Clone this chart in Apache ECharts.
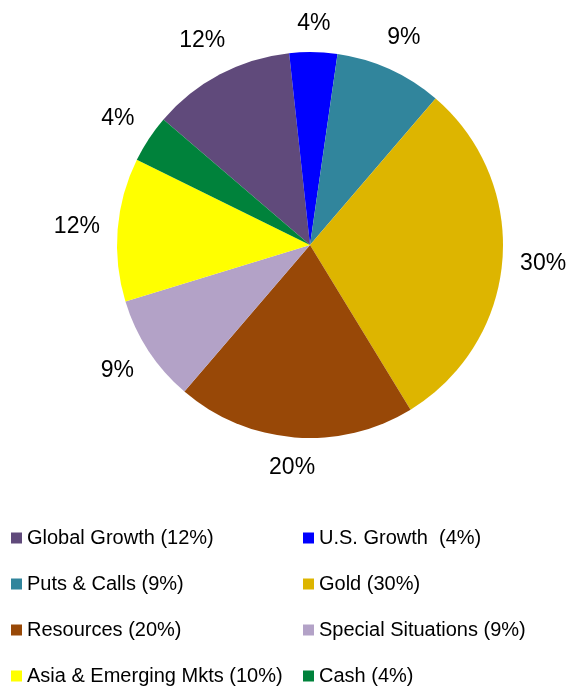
<!DOCTYPE html>
<html>
<head>
<meta charset="utf-8">
<script src="https://cdn.jsdelivr.net/npm/echarts@6/dist/echarts.min.js"></script>
<style>
  html, body { margin: 0; padding: 0; background: #fff; }
  #chart { width: 582px; height: 689px; }
</style>
</head>
<body>
<div id="chart"></div>
<script>
// data
const categories = ['Global Growth', 'U.S. Growth', 'Puts & Calls', 'Gold', 'Resources', 'Special Situations', 'Asia & Emerging Mkts', 'Cash'];
const values = [12, 4, 9, 30, 20, 9, 12, 4];
const legendLabels = ['Global Growth (12%)', 'U.S. Growth  (4%)', 'Puts & Calls (9%)', 'Gold (30%)', 'Resources (20%)', 'Special Situations (9%)', 'Asia & Emerging Mkts (10%)', 'Cash (4%)'];
const colors = ['#604A7B', '#0000FF', '#31859C', '#DDB500', '#984807', '#B3A2C7', '#FFFF00', '#00823B'];

const CX = 310, CY = 245, R = 193;
const FONT = '"Liberation Sans", Arial, sans-serif';

const pieData = categories.map((name, i) => ({ name, value: values[i] }));
const labelFor = {};
categories.forEach((c, i) => { labelFor[c] = legendLabels[i]; });

const chart = echarts.init(document.getElementById('chart'), null, { renderer: 'canvas' });

const legendBase = {
  orient: 'vertical',
  top: 528,
  height: 160,
  padding: 0,
  itemWidth: 11,
  itemHeight: 11,
  itemGap: 26,
  icon: 'rect',
  selectedMode: false,
  formatter: name => labelFor[name],
  textStyle: { fontFamily: FONT, fontSize: 20, lineHeight: 20, color: '#000' }
};

chart.setOption({
  animation: false,
  color: colors,
  legend: [
    Object.assign({}, legendBase, { left: 11, data: categories.filter((c, i) => i % 2 === 0) }),
    Object.assign({}, legendBase, { left: 303, data: categories.filter((c, i) => i % 2 === 1) })
  ],
  series: [
    {
      type: 'pie',
      center: [CX, CY],
      radius: R,
      startAngle: 139.4,
      clockwise: true,
      silent: true,
      label: { show: false },
      labelLine: { show: false },
      emphasis: { disabled: true },
      data: pieData
    },
    {
      // transparent ring that only carries the percentage labels
      type: 'pie',
      center: [CX, CY],
      radius: [R, R + 28],
      startAngle: 139.4,
      clockwise: true,
      silent: true,
      itemStyle: { color: 'transparent' },
      emphasis: { disabled: true },
      label: {
        show: true,
        position: 'inside',
        formatter: '{c}%',
        color: '#000',
        fontFamily: FONT,
        fontSize: 23
      },
      labelLine: { show: false },
      labelLayout: function (p) {
        // push each label outward so its near edge sits on the ring
        const r = p.labelRect;
        const mx = r.x + r.width / 2 - CX;
        const my = r.y + r.height / 2 - CY;
        const len = Math.sqrt(mx * mx + my * my) || 1;
        const ux = mx / len, uy = my / len;
        const h = Math.abs(ux) * r.width / 2 + Math.abs(uy) * r.height / 2;
        return { dx: ux * h, dy: uy * h };
      },
      data: pieData
    }
  ]
});
</script>
</body>
</html>
